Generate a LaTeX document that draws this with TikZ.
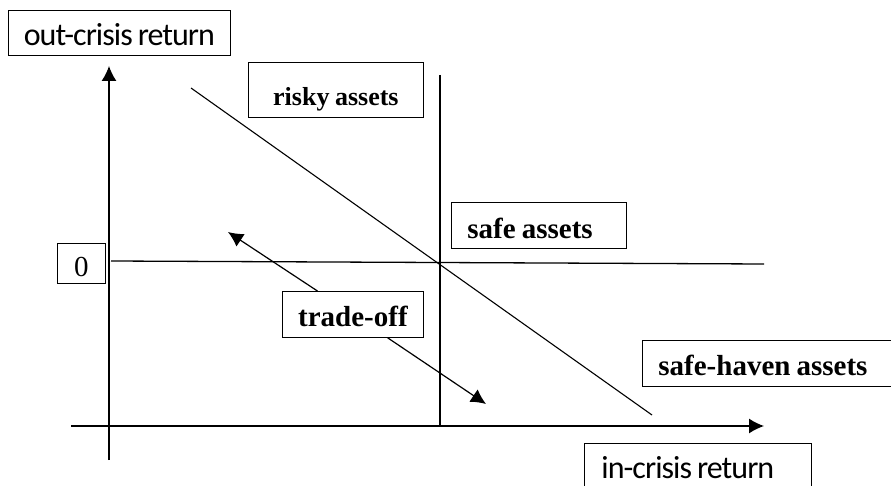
\documentclass[tikz,border=0pt]{standalone}
\usepackage{fontspec}
\setmainfont{Liberation Serif}[WordSpace=0.85]
\newfontfamily\carlito[LetterSpace=-3,WordSpace=0.8]{Carlito}
\usetikzlibrary{arrows.meta}

\begin{document}
\begin{tikzpicture}[x=1pt,y=-1pt,
        box/.style={draw,fill=white,line width=0.8pt,inner sep=0pt,anchor=north west,text depth=0pt},
        sans/.style={box,font=\carlito\fontsize{32}{38}\selectfont},
        bold/.style={box,font=\bfseries\fontsize{29}{34}\selectfont},
        tip/.style={-{Latex[length=15pt,width=15pt]}},
        ln/.style={line width=1.3pt}]
        \useasboundingbox (0,0) rectangle (891,486);

        \coordinate (y0) at (109,460);
        \coordinate (y1) at (109,66);
        \coordinate (x0) at (71,426);
        \coordinate (x1) at (764,426);
        \coordinate (h0) at (111,261);
        \coordinate (h1) at (764,264);
        \coordinate (v0) at (440,75);
        \coordinate (v1) at (440,425);
        \coordinate (r0) at (191,88);
        \coordinate (r1) at (652,415);
        \coordinate (ul) at (228,232);
        \coordinate (lr) at (486,404);

        \draw[ln,tip] (y0) -- (y1);
        \draw[ln,tip] (x0) -- (x1);
        \draw[ln] (h0) -- (h1);
        \draw[ln] (v0) -- (v1);
        \draw[line width=1.1pt] (r0) -- (r1);

        \node[sans,minimum width=222pt,minimum height=45pt,text height=26pt] (a) at (8,10) {out-crisis return};
        \node[bold,minimum width=175pt,minimum height=55pt,text height=31pt,font=\bfseries\fontsize{26}{31}\selectfont] (b) at (248,62) {risky assets};
        \node[box,minimum width=48pt,minimum height=40pt,text height=26pt,font=\fontsize{29}{34}\selectfont] (c) at (57,243) {0};
        \node[bold,minimum width=175pt,minimum height=46pt,text height=26pt] (s) at (451,202) {\makebox[143pt][l]{safe assets}};
        \node[bold,minimum width=141pt,minimum height=46pt,text height=24pt] (d) at (282,291) {trade-off};
        \node[bold,minimum width=262pt,minimum height=46pt,text height=24pt] (e) at (642,340) {\makebox[230pt][l]{safe-haven assets}};
        \node[sans,minimum width=227pt,minimum height=52pt,text height=18pt] (f) at (584,443) {\makebox[193pt][l]{in-crisis return}};

        \draw[line width=1.2pt,tip] (d) -- (ul);
        \draw[line width=1.2pt,tip] (d) -- (lr);
    \end{tikzpicture}
\end{document}
